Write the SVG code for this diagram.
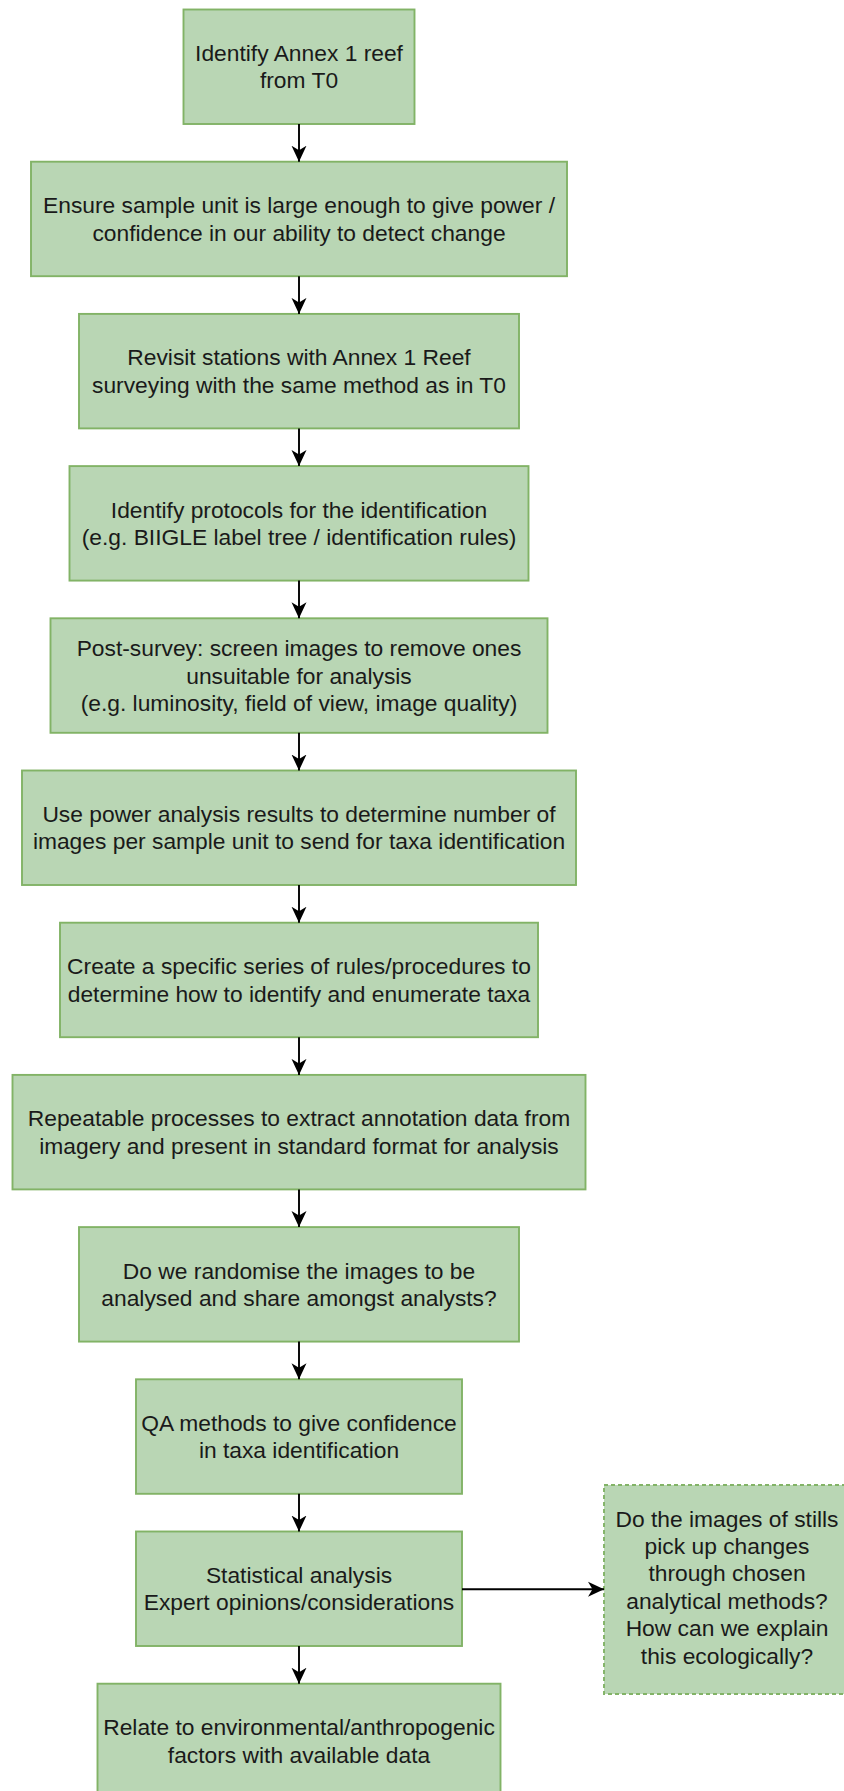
<svg xmlns="http://www.w3.org/2000/svg" width="844" height="1791" viewBox="0 0 844 1791">
  <defs>
    <style>
      .box { fill: #b9d6b4; stroke: #82b366; stroke-width: 1.9; }
      .dash { stroke-dasharray: 4 3; }
      .lbl { font-family: "Liberation Sans", Arial, sans-serif; font-size: 22.8px; fill: #1a1a1a; text-anchor: middle; }
      .edge { fill: none; stroke: #000000; stroke-width: 1.9; marker-end: url(#arrow); }
    </style>
    <marker id="arrow" markerUnits="userSpaceOnUse" markerWidth="16" markerHeight="16" viewBox="0 0 16 16" refX="16" refY="8" orient="auto">
      <path d="M0,0.5 L16,8 L0,15.5 L4.5,8 Z" fill="#000000"/>
    </marker>
  </defs>
  <rect width="844" height="1791" fill="#ffffff"/>

  <!-- process steps -->
  <g id="step1">
    <rect class="box" x="183.5" y="9.5" width="231" height="114.5"/>
    <text class="lbl" x="299" y="61">Identify Annex 1 reef</text>
    <text class="lbl" x="299" y="88.4">from T0</text>
  </g>
  <g id="step2">
    <rect class="box" x="31" y="161.7" width="536" height="114.5"/>
    <text class="lbl" x="299" y="213.2">Ensure sample unit is large enough to give power /</text>
    <text class="lbl" x="299" y="240.6">confidence in our ability to detect change</text>
  </g>
  <g id="step3">
    <rect class="box" x="79" y="313.9" width="440" height="114.5"/>
    <text class="lbl" x="299" y="365.4">Revisit stations with Annex 1 Reef</text>
    <text class="lbl" x="299" y="392.8">surveying with the same method as in T0</text>
  </g>
  <g id="step4">
    <rect class="box" x="69.5" y="466.1" width="459" height="114.5"/>
    <text class="lbl" x="299" y="517.6">Identify protocols for the identification</text>
    <text class="lbl" x="299" y="545">(e.g. BIIGLE label tree / identification rules)</text>
  </g>
  <g id="step5">
    <rect class="box" x="50.5" y="618.3" width="497" height="114.5"/>
    <text class="lbl" x="299" y="656.1">Post-survey: screen images to remove ones</text>
    <text class="lbl" x="299" y="683.5">unsuitable for analysis</text>
    <text class="lbl" x="299" y="710.9">(e.g. luminosity, field of view, image quality)</text>
  </g>
  <g id="step6">
    <rect class="box" x="22" y="770.5" width="554" height="114.5"/>
    <text class="lbl" x="299" y="822">Use power analysis results to determine number of</text>
    <text class="lbl" x="299" y="849.4">images per sample unit to send for taxa identification</text>
  </g>
  <g id="step7">
    <rect class="box" x="60" y="922.7" width="478" height="114.5"/>
    <text class="lbl" x="299" y="974.2">Create a specific series of rules/procedures to</text>
    <text class="lbl" x="299" y="1001.6">determine how to identify and enumerate taxa</text>
  </g>
  <g id="step8">
    <rect class="box" x="12.5" y="1074.9" width="573" height="114.5"/>
    <text class="lbl" x="299" y="1126.4">Repeatable processes to extract annotation data from</text>
    <text class="lbl" x="299" y="1153.8">imagery and present in standard format for analysis</text>
  </g>
  <g id="step9">
    <rect class="box" x="79" y="1227.1" width="440" height="114.5"/>
    <text class="lbl" x="299" y="1278.6">Do we randomise the images to be</text>
    <text class="lbl" x="299" y="1306">analysed and share amongst analysts?</text>
  </g>
  <g id="step10">
    <rect class="box" x="136" y="1379.3" width="326" height="114.5"/>
    <text class="lbl" x="299" y="1430.8">QA methods to give confidence</text>
    <text class="lbl" x="299" y="1458.2">in taxa identification</text>
  </g>
  <g id="step11">
    <rect class="box" x="136" y="1531.5" width="326" height="114.5"/>
    <text class="lbl" x="299" y="1583">Statistical analysis</text>
    <text class="lbl" x="299" y="1610.4">Expert opinions/considerations</text>
  </g>
  <g id="step12">
    <rect class="box" x="97.5" y="1683.7" width="403" height="114.5"/>
    <text class="lbl" x="299" y="1735.2">Relate to environmental/anthropogenic</text>
    <text class="lbl" x="299" y="1762.6">factors with available data</text>
  </g>

  <!-- open question beside the analysis step -->
  <g id="question">
    <rect class="box dash" x="604" y="1485" width="246" height="209"/>
    <text class="lbl" x="727" y="1526.5">Do the images of stills</text>
    <text class="lbl" x="727" y="1553.9">pick up changes</text>
    <text class="lbl" x="727" y="1581.3">through chosen</text>
    <text class="lbl" x="727" y="1608.7">analytical methods?</text>
    <text class="lbl" x="727" y="1636.1">How can we explain</text>
    <text class="lbl" x="727" y="1663.5">this ecologically?</text>
  </g>

  <!-- connectors -->
  <g id="connectors">
    <path class="edge" d="M299,124 L299,161.7"/>
    <path class="edge" d="M299,276.2 L299,313.9"/>
    <path class="edge" d="M299,428.4 L299,466.1"/>
    <path class="edge" d="M299,580.6 L299,618.3"/>
    <path class="edge" d="M299,732.8 L299,770.5"/>
    <path class="edge" d="M299,885 L299,922.7"/>
    <path class="edge" d="M299,1037.2 L299,1074.9"/>
    <path class="edge" d="M299,1189.4 L299,1227.1"/>
    <path class="edge" d="M299,1341.6 L299,1379.3"/>
    <path class="edge" d="M299,1493.8 L299,1531.5"/>
    <path class="edge" d="M299,1646 L299,1683.7"/>
    <path class="edge" d="M462,1589.3 L604,1589.3"/>
  </g>
</svg>
